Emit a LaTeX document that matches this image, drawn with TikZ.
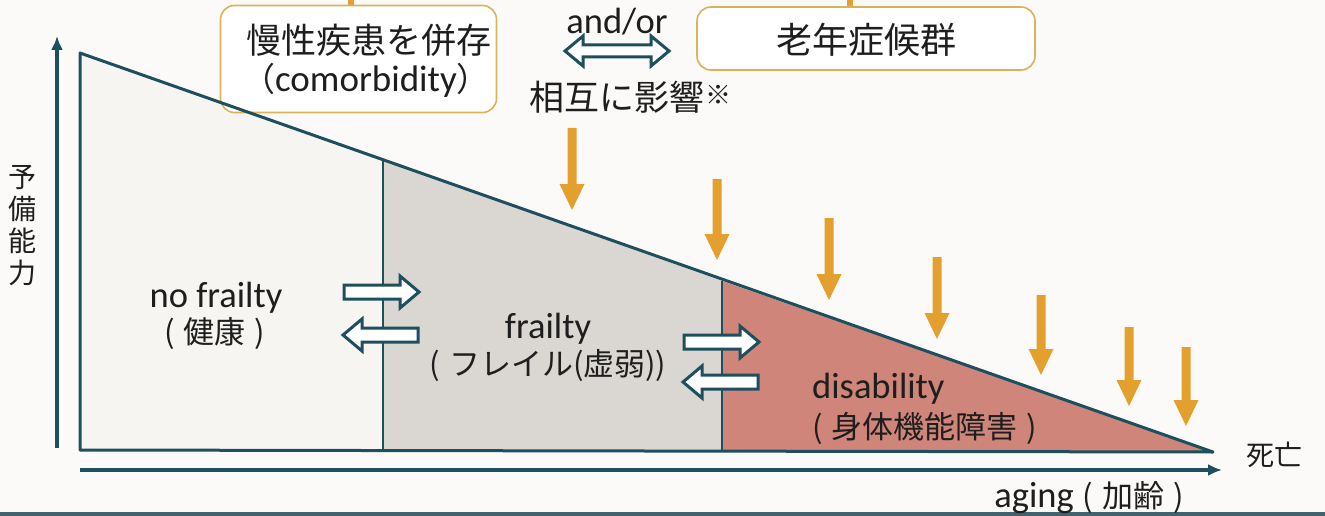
\documentclass[tikz,border=0pt]{standalone}
\usepackage{fontspec}
\setmainfont{Carlito}
\newfontfamily\jp{Noto Sans CJK JP}
\usetikzlibrary{arrows.meta}
\definecolor{bgc}{HTML}{FBFAF8}
\definecolor{tealc}{HTML}{1D4F5E}
\definecolor{orgc}{HTML}{E3A02F}
\definecolor{boxc}{HTML}{D9B35A}
\definecolor{fillA}{HTML}{F6F5F2}
\definecolor{fillB}{HTML}{DAD6D1}
\definecolor{fillC}{HTML}{CF8579}
\definecolor{txtc}{HTML}{1E1E1E}
\newcommand\jsp{\hspace{9pt}}
\tikzset{
  lab/.style={text=txtc, inner sep=0pt, font=\fontsize{36.5}{40}\selectfont},
  jlab/.style={text=txtc, inner sep=0pt, font=\jp\fontsize{31}{36}\selectfont},
  toplab/.style={text=txtc, inner sep=0pt, font=\jp\fontsize{35}{40}\selectfont},
  tbox/.style={draw=boxc, line width=1.6pt, rounded corners=14pt, fill=white},
  axisline/.style={draw=tealc, line width=3.5pt, -{Latex[length=14pt,width=12pt]}},
  outline/.style={draw=tealc, line width=3pt, line join=round},
  divider/.style={draw=tealc, line width=1.8pt},
  harrow/.style={draw=tealc, line width=3pt, fill=white, line join=miter},
  hollowR/.pic={\path[harrow] (-37,-7) -- (19,-7) -- (19,-16) -- (38,0) -- (19,16) -- (19,7) -- (-37,7) -- cycle;},
  hollowL/.pic={\path[harrow] (37,-7) -- (-19,-7) -- (-19,-16) -- (-38,0) -- (-19,16) -- (-19,7) -- (37,7) -- cycle;},
  hollowLR/.pic={\path[harrow] (-34,-6) -- (34,-6) -- (34,-15) -- (52,0) -- (34,15) -- (34,6) -- (-34,6) -- (-34,15) -- (-52,0) -- (-34,-15) -- cycle;},
  odown/.pic={\fill[orgc] (-4.5,0) -- (4.5,0) -- (4.5,#1-26) -- (12.5,#1-26) -- (0,#1) -- (-12.5,#1-26) -- (-4.5,#1-26) -- cycle;}
}
\begin{document}
\begin{tikzpicture}[x=1pt,y=-1pt]
\useasboundingbox (0,0) rectangle (1325,516);
\fill[bgc] (0,0) rectangle (1325,516);
\fill[tealc!60!gray] (0,512) rectangle (1325,516);

% key points
\coordinate (TL) at (80,53);
\coordinate (BL) at (80,450);
\coordinate (AP) at (1213,452);
\coordinate (D1t) at (383,160.5);
\coordinate (D1b) at (383,450);
\coordinate (D2t) at (722,281);
\coordinate (D2b) at (722,450);

% regions
\fill[fillA] (TL) -- (D1t) -- (D1b) -- (BL) -- cycle;
\fill[fillB] (D1t) -- (D2t) -- (D2b) -- (D1b) -- cycle;
\fill[fillC] (D2t) -- (AP) -- (D2b) -- cycle;
\draw[divider] (D1t) -- (D1b);
\draw[divider] (D2t) -- (D2b);

% top boxes
\draw[orgc, line width=6pt] (351,0) -- (351,6);
\draw[orgc, line width=6pt] (850,0) -- (850,8);
\node[tbox, minimum width=276pt, minimum height=107pt] (cb) at (358.5,59) {};
\node[tbox, minimum width=338pt, minimum height=63pt] (gs) at (866,38.5) {};
\node[toplab] (cbj) at (369,40) {慢性疾患を併存};
\node[inner sep=0pt, text=txtc, font=\fontsize{37}{40}\selectfont] (cbe) at (366,80) {{\jp\fontsize{33}{40}\selectfont （}comorbidity{\jp\fontsize{33}{40}\selectfont ）}};
\node[toplab, font=\jp\fontsize{36}{40}\selectfont] (gsj) at (866,40) {老年症候群};

\draw[outline] (BL) -- (TL) -- (AP) -- cycle;

% axes
\coordinate (Y0) at (57,448);
\coordinate (Y1) at (57,36);
\coordinate (X0) at (80,470);
\coordinate (X1) at (1222,470);
\draw[axisline] (Y0) -- (Y1);
\draw[axisline] (X0) -- (X1);

% axis labels
\node[jlab, align=center, font=\jp\fontsize{28}{32}\selectfont] (yl) at (23,226) {予\\備\\能\\力};
\node[jlab, font=\jp\fontsize{28}{32}\selectfont] (death) at (1274,455) {死亡};
\node[lab] (aging) at (1089,498) {aging{\jp\fontsize{31}{36}\selectfont\jsp(\jsp 加齢\jsp)}};

% region labels
\node[lab] (nf) at (216,298) {no frailty};
\node[jlab] (nfj) at (215,334) {(\jsp 健康\jsp)};
\node[lab] (fr) at (548,329) {frailty};
\node[jlab] (frj) at (548,366) {(\jsp フレイル(虚弱))};
\node[lab, anchor=west] (ds) at (812,389) {disability};
\node[jlab, anchor=west] (dsj) at (812,428) {(\jsp 身体機能障害\jsp)};

% hollow transition arrows
\pic (t1) at (381,292) {hollowR};
\pic (t2) at (381,335) {hollowL};
\pic (t3) at (721,342) {hollowR};
\pic (t4) at (721,382) {hollowL};

% top relation
\node[lab] (andor) at (617,22) {and/or};
\pic (t5) at (617,51) {hollowLR};
\node[toplab, anchor=west] (mutual) at (529,97) {相互に影響\hspace{1pt}{\fontsize{26}{26}\selectfont\raisebox{6pt}{※}}};

% orange influence arrows
\pic (o1) at (572,128) {odown=82};
\pic (o2) at (717,179) {odown=81};
\pic (o3) at (829,218) {odown=82};
\pic (o4) at (937,257) {odown=82};
\pic (o5) at (1041,295) {odown=80};
\pic (o6) at (1129,327) {odown=79};
\pic (o7) at (1186,347) {odown=79};
\end{tikzpicture}
\end{document}
